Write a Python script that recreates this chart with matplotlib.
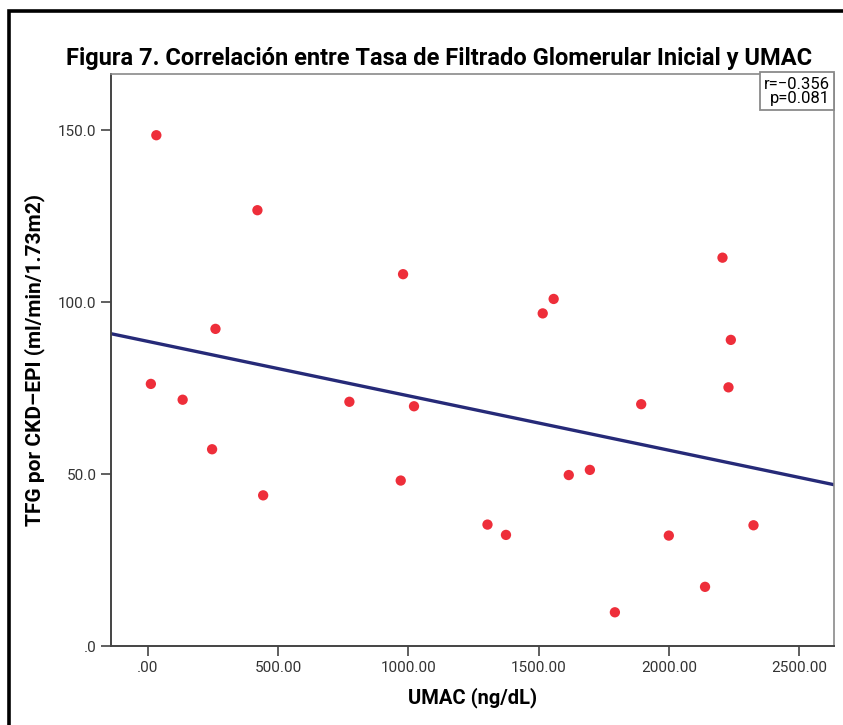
import numpy as np
import matplotlib.pyplot as plt
from matplotlib.patches import Rectangle

# UMAC (ng/dL) vs TFG por CKD-EPI
umac = [33, 12, 134, 247, 421, 260, 443, 774, 980, 1022, 971, 1304, 1375,
        1516, 1558, 1616, 1697, 1793, 1894, 2000, 2139, 2206, 2238, 2229, 2325]
tfg = [148.5, 76.2, 71.6, 57.2, 126.7, 92.2, 43.8, 71.0, 108.1, 69.7, 48.1,
       35.3, 32.3, 96.7, 100.9, 49.7, 51.2, 9.8, 70.3, 32.1, 17.2, 112.9,
       89.0, 75.2, 35.1]
x_ticks = [0, 500, 1000, 1500, 2000, 2500]
x_tick_labels = ['.00', '500.00', '1000.00', '1500.00', '2000.00', '2500.00']
y_ticks = [0, 50, 100, 150]
y_tick_labels = ['.0', '50.0', '100.0', '150.0']
stats_text = 'r=\u22120.356\np=0.081'

plt.rcParams['font.family'] = ['Roboto', 'DejaVu Sans']

fig = plt.figure(figsize=(8.43, 7.25), dpi=100)
ax = fig.add_axes([111 / 843, 79 / 725, 723 / 843, 572 / 725])

ax.scatter(umac, tfg, s=55, color='#ee2e3a', edgecolors='none', zorder=3)

# linear fit line across the full x range
xlim = (-141, 2634)
slope, intercept = np.polyfit(umac, tfg, 1)
xs = np.array(xlim)
ax.plot(xs, slope * xs + intercept, color='#262a78', lw=2.4, zorder=2)

ax.set_xlim(*xlim)
ax.set_ylim(0, 166.3)
ax.set_xticks(x_ticks)
ax.set_xticklabels(x_tick_labels)
ax.set_yticks(y_ticks)
ax.set_yticklabels(y_tick_labels)
ax.tick_params(direction='out', length=7, width=1.2, color='#444444',
               labelsize=11, labelcolor='#333333')
for side in ['left', 'bottom']:
    ax.spines[side].set_color('#444444')
    ax.spines[side].set_linewidth(1.4)
for side in ['top', 'right']:
    ax.spines[side].set_color('#8a8a8a')
    ax.spines[side].set_linewidth(1.2)

ax.set_xlabel('UMAC (ng/dL)', fontsize=14.5, fontweight='bold', labelpad=9)
ax.set_ylabel('TFG por CKD\u2013EPI (ml/min/1.73m2)', fontsize=15,
              fontweight='bold', labelpad=9)

ax.text(0.9945, 0.9955, stats_text, transform=ax.transAxes, ha='right',
        va='top', fontsize=12, linespacing=0.95,
        bbox=dict(boxstyle='square,pad=0.25', fc='white', ec='#8a8a8a', lw=1.3))

fig.text(0.521, 660 / 725, 'Figura 7. Correlación entre Tasa de Filtrado Glomerular Inicial y UMAC',
         ha='center', va='baseline', fontsize=17, fontweight='bold')

# outer frame (cut off at right and bottom edges)
fig.add_artist(Rectangle((9 / 843, -0.1), 1.2, 1.1 - 11 / 725,
                         transform=fig.transFigure, fill=False,
                         ec='black', lw=2.6))

plt.savefig('out.png', dpi=100)
